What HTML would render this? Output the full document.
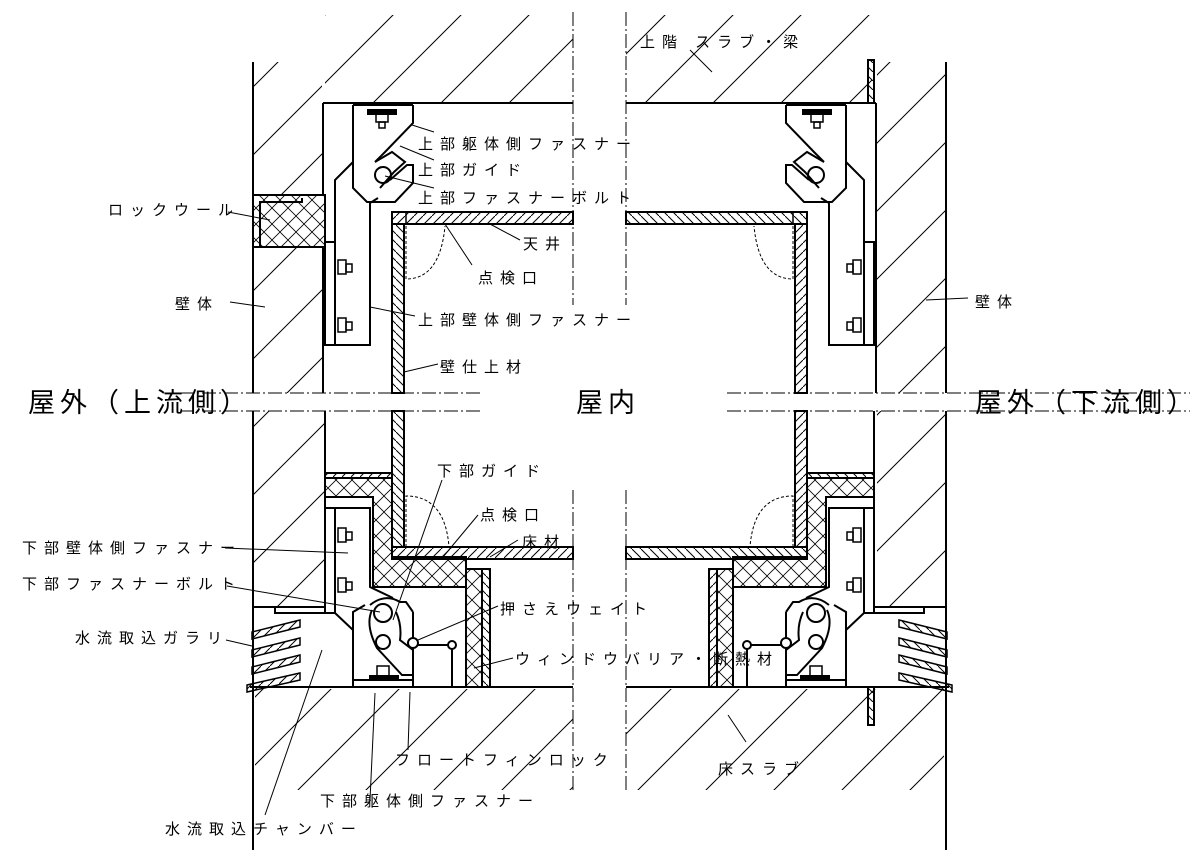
<!DOCTYPE html>
<html><head><meta charset="utf-8"><style>
html,body{margin:0;padding:0;background:#fff;}
svg{display:block;}
text{font-family:"Liberation Sans","Noto Sans CJK JP",sans-serif;fill:#000;}
.s{font-size:15px;letter-spacing:7px;}
.b{font-size:27px;letter-spacing:5px;}
</style></head><body>
<svg width="1200" height="850" viewBox="0 0 1200 850" xmlns="http://www.w3.org/2000/svg">
<defs>
<pattern id="h" patternUnits="userSpaceOnUse" width="68" height="68"><path d="M0 68 L68 0 M-10 10 L10 -10 M58 78 L78 58" stroke="#000" stroke-width="1"/></pattern>
<pattern id="hf" patternUnits="userSpaceOnUse" width="9" height="9"><path d="M0 9 L9 0" stroke="#000" stroke-width="1"/></pattern>
<pattern id="hv" patternUnits="userSpaceOnUse" width="9" height="9"><path d="M0 0 L9 9" stroke="#000" stroke-width="1"/></pattern>
<pattern id="x" patternUnits="userSpaceOnUse" width="16" height="16"><path d="M0 0 L16 16 M16 0 L0 16" stroke="#000" stroke-width="0.8"/></pattern>
<g id="half" fill="none" stroke="#000" stroke-width="2">
  <line x1="323" y1="103" x2="573" y2="103"/>
  <line x1="253" y1="62" x2="253" y2="393"/>
  <line x1="323" y1="103" x2="323" y2="393"/>
  <path d="M353 162 L335 180 V345 H370 V203 L378 198"/>
  <rect x="325" y="242" width="10" height="103" fill="#fff"/>
  <g stroke-width="1.5"><rect x="338" y="260" width="8" height="14"/><rect x="346" y="264" width="6" height="8"/><rect x="338" y="318" width="8" height="14"/><rect x="346" y="322" width="6" height="8"/></g>
  <path d="M353 105 V188 L367 202 H395 L413 183 V165 H407 L390 180"/>
  <path d="M413 105 V123 L385 152 L375 162"/>
  <path d="M353 105 H413"/>
  <rect x="368" y="110" width="28" height="4" fill="#000"/>
  <rect x="376" y="114" width="12" height="8" stroke-width="1.5"/><rect x="379" y="122" width="6" height="6" stroke-width="1.5"/>
  <path d="M375 162 L392 152 L405 162 L394 172 L380 188"/>
  <circle cx="383" cy="175" r="8"/>
  <rect x="392" y="212" width="181" height="12" fill="url(#hf)"/>
  <line x1="406" y1="212" x2="406" y2="224" stroke-width="1.5"/>
  <rect x="392" y="224" width="12" height="169" fill="url(#hv)"/>
  <path d="M406 226 V279 Q440 279 445 226" stroke-width="1" stroke-dasharray="3 2"/>
  <line x1="253" y1="411" x2="253" y2="850"/>
  <line x1="325" y1="411" x2="325" y2="607"/>
  <line x1="253" y1="607" x2="325" y2="607"/>
  <path d="M275 607 V613 H332"/>
  <rect x="392" y="411" width="12" height="136" fill="url(#hv)"/>
  <path d="M325 473 H392 V478 H325 Z" fill="url(#hf)"/>
  <path d="M325 478 H392 V557 H466 V587 H373 V497 H325 Z" fill="url(#x)"/>
  <rect x="392" y="547" width="181" height="12" fill="url(#hf)"/>
  <path d="M406 547 V496 Q445 496 449 547" stroke-width="1" stroke-dasharray="3 2"/>
  <rect x="466" y="569" width="16" height="118" fill="url(#x)"/>
  <rect x="482" y="569" width="8" height="118" fill="url(#hv)"/>
  <path d="M328 508 H370 V587 L393 598 M335 613 L353 630"/>
  <rect x="325" y="508" width="10" height="105" fill="#fff"/>
  <g stroke-width="1.5"><rect x="338" y="528" width="8" height="14"/><rect x="346" y="532" width="6" height="8"/><rect x="338" y="578" width="8" height="14"/><rect x="346" y="582" width="6" height="8"/></g>
  <path d="M353 687 V612 L365 605 M413 612 V687 M353 680 H413"/>
  <path d="M370 605 Q385 593 400 602 L406 602 L413 612"/>
  <path d="M372 610 Q365 625 377 648 L402 675 H413 V650 L400 640 Q402 625 396 612"/>
  <circle cx="383" cy="613" r="9"/>
  <circle cx="383" cy="642" r="7"/>
  <rect x="370" y="676" width="28" height="4" fill="#000"/>
  <rect x="377" y="666" width="12" height="10" stroke-width="1.5"/>
  <circle cx="413" cy="643" r="5" fill="#fff"/>
  <path d="M418 645 H452 V687"/>
  <circle cx="452" cy="645" r="4" fill="#fff"/>
  <g stroke-width="1.5">
    <path d="M252 632 L300 620 L300 627 L252 639 Z" fill="url(#hf)"/>
    <path d="M252 650 L300 638 L300 645 L252 657 Z" fill="url(#hf)"/>
    <path d="M252 667 L300 655 L300 662 L252 674 Z" fill="url(#hf)"/>
    <path d="M247 685 L300 673 L300 680 L247 692 Z" fill="url(#hf)"/>
  </g>
  <line x1="250" y1="687" x2="573" y2="687"/>
</g>
</defs>
<g stroke="none" fill="url(#h)">
  <rect x="325" y="15" width="248" height="87"/>
  <rect x="626" y="15" width="246" height="87"/>
  <rect x="254" y="62" width="68" height="133"/>
  <rect x="254" y="248" width="68" height="145"/>
  <rect x="877" y="62" width="68" height="331"/>
  <rect x="254" y="411" width="70" height="196"/>
  <rect x="877" y="411" width="68" height="196"/>
  <rect x="255" y="689" width="318" height="101"/>
  <rect x="626" y="689" width="318" height="101"/>
</g>
<use href="#half"/>
<use href="#half" transform="translate(1199,0) scale(-1,1)"/>
<g fill="none" stroke="#000" stroke-width="2">
  <rect x="253" y="195" width="72" height="52" fill="#fff"/>
  <rect x="253" y="195" width="72" height="52" fill="url(#x)"/>
  <path d="M260 247 V202 H302 V198"/>
  <rect x="868" y="60" width="6" height="43" fill="url(#hv)"/>
  <rect x="868" y="687" width="6" height="38" fill="url(#hv)"/>
</g>
<g stroke="#000" stroke-width="1" stroke-dasharray="14 3 2 3">
<line x1="573" y1="12" x2="573" y2="305"/><line x1="626" y1="12" x2="626" y2="305"/>
<line x1="573" y1="490" x2="573" y2="792"/><line x1="626" y1="490" x2="626" y2="792"/>
<line x1="180" y1="393" x2="480" y2="393"/><line x1="180" y1="411" x2="480" y2="411"/>
<line x1="727" y1="393" x2="1190" y2="393"/><line x1="727" y1="411" x2="1190" y2="411"/>
</g>
<rect x="100" y="394" width="370" height="16" fill="#fff"/>
<rect x="730" y="394" width="460" height="16" fill="#fff"/>
<g stroke="#000" stroke-width="1" fill="none">
<path d="M412 125 L434 132"/><path d="M400 146 L434 160"/><path d="M385 176 L434 188"/>
<path d="M228 212 L270 220"/><path d="M490 224 L520 240"/><path d="M445 224 L472 265"/>
<path d="M230 302 L265 307"/><path d="M370 307 L415 316"/><path d="M404 372 L438 364"/>
<path d="M225 548 L348 553"/><path d="M227 586 L380 612"/><path d="M226 640 L252 646"/>
<path d="M442 480 L393 620"/><path d="M478 515 L443 557"/><path d="M518 540 L490 557"/>
<path d="M498 606 L418 640"/><path d="M513 658 L474 668"/>
<path d="M410 692 L408 750"/><path d="M375 693 L370 800"/><path d="M322 650 L265 815"/>
<path d="M690 50 L712 72"/><path d="M728 715 L746 742"/><path d="M926 300 L968 298"/>
</g>
<text class="s" x="640" y="47">上階 スラブ・梁</text>
<text class="s" x="418" y="149">上部躯体側ファスナー</text>
<text class="s" x="418" y="175">上部ガイド</text>
<text class="s" x="418" y="203">上部ファスナーボルト</text>
<text class="s" x="108" y="215">ロックウール</text>
<text class="s" x="523" y="249">天井</text>
<text class="s" x="478" y="283">点検口</text>
<text class="s" x="175" y="309">壁体</text>
<text class="s" x="975" y="307">壁体</text>
<text class="s" x="418" y="325">上部壁体側ファスナー</text>
<text class="s" x="440" y="372">壁仕上材</text>
<text class="b" x="28" y="412">屋外（上流側）</text>
<text class="b" x="576" y="412">屋内</text>
<text class="b" x="975" y="412">屋外（下流側）</text>
<text class="s" x="437" y="476">下部ガイド</text>
<text class="s" x="480" y="520">点検口</text>
<text class="s" x="522" y="547">床材</text>
<text class="s" x="22" y="553">下部壁体側ファスナー</text>
<text class="s" x="22" y="589">下部ファスナーボルト</text>
<text class="s" x="500" y="614">押さえウェイト</text>
<text class="s" x="75" y="643">水流取込ガラリ</text>
<text class="s" x="515" y="664">ウィンドウバリア・断熱材</text>
<text class="s" x="395" y="765">フロートフィンロック</text>
<text class="s" x="718" y="774">床スラブ</text>
<text class="s" x="320" y="806">下部躯体側ファスナー</text>
<text class="s" x="165" y="834">水流取込チャンバー</text>
</svg>
</body></html>
